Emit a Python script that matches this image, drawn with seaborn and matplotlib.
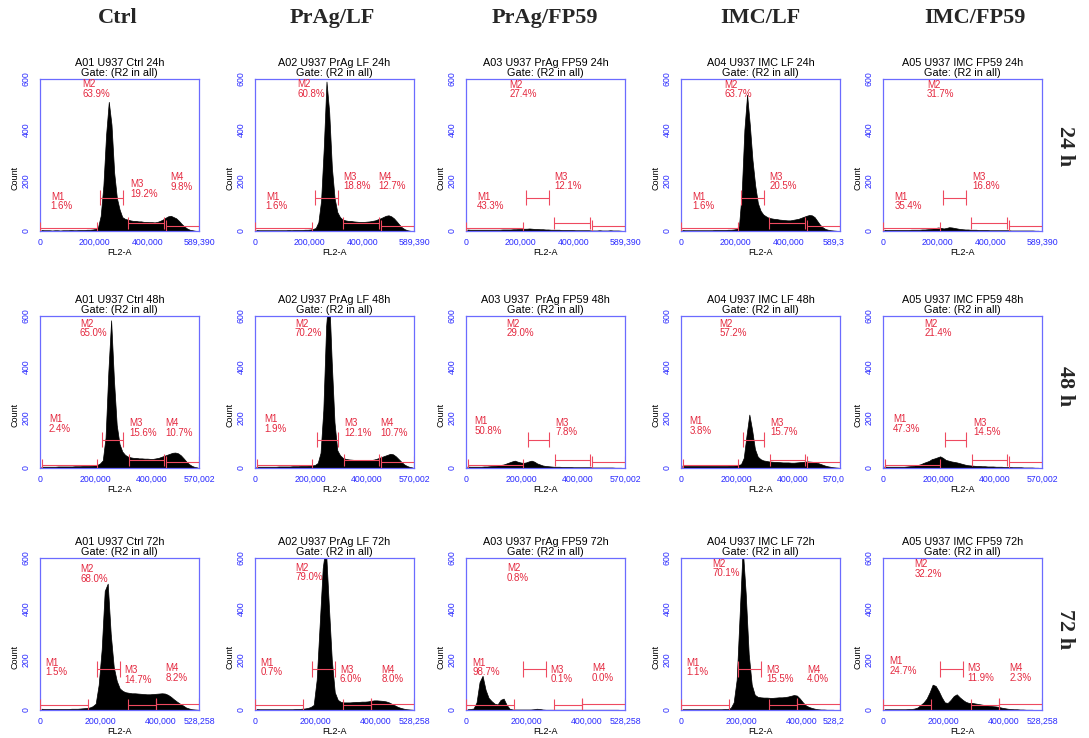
import numpy as np
import pandas as pd
import matplotlib
matplotlib.use("Agg")
import matplotlib.pyplot as plt
import seaborn as sns
from matplotlib.transforms import ScaledTranslation

sns.set_theme(style="white")
plt.rcParams["font.family"] = ["Liberation Sans", "DejaVu Sans"]

# ---------------- data ----------------
BIN = 10000  # FL2-A bin width

treatments = ["Ctrl", "PrAg/LF", "PrAg/FP59", "IMC/LF", "IMC/FP59"]
times = ["24 h", "48 h", "72 h"]
sample_names = ["A01 U937 Ctrl", "A02 U937 PrAg LF", "A03 U937 PrAg FP59",
                "A04 U937 IMC LF", "A05 U937 IMC FP59"]
sample_names_48 = ["A01 U937 Ctrl", "A02 U937 PrAg LF", "A03 U937  PrAg FP59",
                   "A04 U937 IMC LF", "A05 U937 IMC FP59"]
time_tags = ["24h", "48h", "72h"]

x_max = [589390, 570002, 528258]
x_max_labels = [["589,390", "589,390", "589,390", "589,3", "589,390"],
                ["570,002", "570,002", "570,002", "570,0", "570,002"],
                ["528,258", "528,258", "528,258", "528,2", "528,258"]]
x_ticks = [0, 200000, 400000]
x_tick_labels = ["0", "200,000", "400,000"]
y_ticks = [0, 200, 400, 600]

# histogram heights (counts per 10,000-wide FL2-A bin)
ctrl_24 = [4,3,3,3,2,3,3,2,3,3, 3,4,3,3,4,4,4,5,5,6, 8,15,60,180,380,510,420,230,130,85,
           55,48,45,42,40,40,38,38,36,36, 35,35,34,36,40,45,52,58,60,55, 50,40,28,18,10,5,3,1,0]
prag_lf_24 = [4,3,3,3,3,3,3,3,3,3, 3,3,4,3,4,4,4,4,5,5, 6,8,12,35,120,330,590,470,250,130,
              75,55,45,42,40,40,38,37,36,36, 36,37,38,40,42,46,50,55,60,62, 58,50,38,25,14,7,3,1,0]
prag_fp59_24 = [6,5,5,5,5,5,5,5,5,5, 5,5,5,6,6,6,6,7,7,8, 8,9,9,10,9,8,8,7,7,6,
                6,5,5,5,5,4,4,4,4,4, 3,3,3,3,3,3,2,2,2,3, 2,2,2,3,2,2,2,1,0]
imc_lf_24 = [4,3,3,3,3,3,3,3,3,3, 3,3,4,4,4,4,4,5,5,6, 8,20,150,400,538,420,280,180,110,80,
             65,58,52,50,48,47,45,44,43,42, 42,44,46,48,52,56,60,63,62,55, 40,25,15,8,5,3,2,1,0]
imc_fp59_24 = [5,4,4,4,4,4,4,4,4,4, 5,5,5,5,6,6,7,8,10,12, 14,12,10,12,15,14,12,10,8,7,
               6,6,5,5,5,4,4,4,4,3, 3,3,3,3,3,3,3,2,2,2, 2,2,2,2,2,2,1,1,0]

ctrl_48 = [5,5,5,5,5,5,6,6,6,6, 6,6,7,7,7,8,8,8,9,10, 12,18,30,120,380,583,350,170,95,65,
           52,45,42,40,40,38,38,37,37,36, 36,38,40,44,48,52,56,60,61,58, 50,38,25,15,8,4,2]
prag_lf_48 = [5,5,5,5,5,5,5,5,6,6, 6,6,6,7,7,7,8,8,8,9, 10,12,20,60,230,560,700,420,180,70,
              50,40,36,34,33,32,32,31,31,30, 30,31,33,36,40,44,48,52,56,54, 46,35,24,14,8,4,2]
prag_fp59_48 = [6,5,5,5,5,5,6,6,7,8, 9,10,12,14,18,22,26,29,25,22, 20,22,26,29,25,18,14,10,8,7,
                6,5,5,5,4,4,4,4,3,3, 3,3,3,3,3,2,2,2,2,2, 2,2,2,1,1,1,0]
imc_lf_48 = [10,8,8,8,8,8,8,8,8,8, 8,8,8,8,8,8,8,9,9,10, 12,15,40,130,211,150,75,45,35,30,
             28,26,25,24,24,23,22,22,22,21, 21,22,23,24,25,26,25,24,22,18, 14,10,7,5,3,2,1]
imc_fp59_48 = [6,5,5,5,5,5,5,5,6,7, 8,10,12,15,20,24,28,35,38,42, 46,40,32,29,26,24,22,19,16,13,
               11,10,9,8,8,7,7,6,6,6, 5,5,5,4,4,4,3,3,3,3, 2,2,2,2,1,1,0]

ctrl_72 = [5,4,4,4,4,4,4,4,4,4, 5,5,5,6,7,8,10,15,25,100, 240,470,499,300,170,115,85,75,70,68,
           66,66,65,64,63,62,62,63,64,65, 66,65,60,52,42,33,25,18,10,6, 3,2,1]
prag_lf_72 = [4,3,3,3,3,3,3,3,3,3, 3,3,3,4,4,5,6,8,12,20, 120,340,560,650,420,200,70,40,32,30,
              30,30,31,32,32,33,33,34,36,38, 38,37,36,34,30,24,18,12,8,5, 3,2,1]
prag_fp59_72 = [3,4,6,30,110,135,80,48,35,25, 22,40,45,20,5,2,2,2,2,2, 2,2,3,5,4,2,1,1,1,1,
                1,1,1,1,1,1,1,1,1,1, 1,1,1,1,1,1,1,1,1,1, 1,0,0]
imc_lf_72 = [3,3,3,3,3,3,3,3,3,3, 3,3,3,3,4,4,8,30,120,380, 640,460,220,100,60,52,50,49,49,48,
             48,49,50,50,51,53,56,59,57,45, 30,18,12,8,5,3,2,2,1,1, 1,0,0]
imc_fp59_72 = [3,3,3,3,3,3,3,3,4,4, 6,10,20,30,45,70,100,95,75,50, 30,28,40,55,62,50,40,32,28,28,
               26,24,22,20,18,17,15,14,12,9, 7,5,4,3,3,2,2,1,1,1, 0,0,0]

hist_24 = [ctrl_24, prag_lf_24, prag_fp59_24, imc_lf_24, imc_fp59_24]
hist_48 = [ctrl_48, prag_lf_48, prag_fp59_48, imc_lf_48, imc_fp59_48]
hist_72 = [ctrl_72, prag_lf_72, prag_fp59_72, imc_lf_72, imc_fp59_72]

# marker gates (FL2-A range) and the count level the marker bar is drawn at
gates_24 = [[0, 210000], [222000, 307000], [327000, 460000], [466000, 589390]]
gate_levels_24 = [10, 131, 31, 21]
gates_48 = [[6000, 203000], [221000, 296000], [319000, 444000], [450000, 570002]]
gate_levels_48 = [12, 111, 33, 25]
gates_72 = [[0, 160000], [190000, 266000], [292000, 384000], [386000, 528258]]
gate_levels_72 = [20, 162, 18, 25]

# percentages per marker (M1..M4); None = label not shown
pct_24 = [[1.6, 63.9, 19.2, 9.8], [1.6, 60.8, 18.8, 12.7], [43.3, 27.4, 12.1, None],
          [1.6, 63.7, 20.5, None], [35.4, 31.7, 16.8, None]]
pct_48 = [[2.4, 65.0, 15.6, 10.7], [1.9, 70.2, 12.1, 10.7], [50.8, 29.0, 7.8, None],
          [3.8, 57.2, 15.7, None], [47.3, 21.4, 14.5, None]]
pct_72 = [[1.5, 68.0, 14.7, 8.2], [0.7, 79.0, 6.0, 8.0], [98.7, 0.8, 0.1, 0.0],
          [1.1, 70.1, 15.5, 4.0], [24.7, 32.2, 11.9, 2.3]]

# ---------------- layout ----------------
label_pos = [
    [[(40e3, 116), (158e3, 560), (334e3, 166), (482e3, 193)],
     [(40e3, 116), (158e3, 560), (327e3, 195), (457e3, 195)],
     [(41e3, 116), (161e3, 558), (328e3, 196), None],
     [(41e3, 116), (161e3, 558), (328e3, 195), None],
     [(43e3, 116), (163e3, 558), (330e3, 195), None]],
    [[(32e3, 174), (143e3, 550), (320e3, 159), (450e3, 159)],
     [(32e3, 174), (143e3, 550), (320e3, 159), (450e3, 159)],
     [(30e3, 166), (145e3, 550), (321e3, 160), None],
     [(30e3, 166), (138e3, 550), (321e3, 160), None],
     [(35e3, 174), (148e3, 550), (323e3, 160), None]],
    [[(19e3, 168), (133e3, 537), (280e3, 138), (417e3, 145)],
     [(19e3, 168), (133e3, 542), (282e3, 140), (421e3, 140)],
     [(20e3, 168), (136e3, 541), (281e3, 140), (419e3, 145)],
     [(19e3, 168), (104e3, 558), (282e3, 140), (418e3, 140)],
     [(22e3, 173), (105e3, 557), (281e3, 146), (421e3, 146)]],
]

W, H = 1089, 738
col_left = [40, 255, 466, 681, 883]
row_top = [79, 316, 558]
AW, AH = 159, 152

BLUE = "#6b6bff"
BLUE_TXT = "#2a2aff"
RED_LINE = "#ee4a60"
RED_TXT = "#e4283f"

fig = plt.figure(figsize=(W / 100, H / 100), dpi=100)
fig.patch.set_facecolor("white")

hists = [hist_24, hist_48, hist_72]
gates = [gates_24, gates_48, gates_72]
levels = [gate_levels_24, gate_levels_48, gate_levels_72]
pcts = [pct_24, pct_48, pct_72]
names = [sample_names, sample_names_48, sample_names]

for r in range(3):
    for c in range(5):
        ax = fig.add_axes([col_left[c] / W, 1 - (row_top[r] + AH) / H, AW / W, AH / H])
        counts = [float(v) for v in hists[r][c]]
        n = len(counts)
        df = pd.DataFrame({"fl2a": [BIN * (i + 0.5) for i in range(n)], "count": counts})
        sns.histplot(data=df, x="fl2a", weights="count", binwidth=BIN, binrange=(0, n * BIN),
                     element="poly", fill=True, color="black", alpha=1.0,
                     edgecolor="black", linewidth=0.5, ax=ax)
        ax.set_xlim(0, x_max[r])
        ax.set_ylim(0, 600)

        # gates
        for g, (x0, x1) in enumerate(gates[r]):
            y = levels[r][g]
            h = 30 if g == 1 else 24
            ax.hlines(y, x0, x1, color=RED_LINE, lw=0.8, zorder=3)
            ax.vlines([x0, x1], y - h, y + h, color=RED_LINE, lw=0.8, zorder=3)
            p = pcts[r][c][g]
            pos = label_pos[r][c][g]
            if p is not None and pos is not None:
                ax.text(pos[0], pos[1], f"M{g + 1}\n{p:.1f}%", color=RED_TXT, fontsize=7,
                        ha="left", va="center", linespacing=0.95, zorder=4)

        ax.set_xticks(x_ticks + [x_max[r]])
        ax.set_xticklabels(x_tick_labels + [x_max_labels[r][c]])
        ax.set_yticks(y_ticks)
        ax.set_yticklabels([str(v) for v in y_ticks], rotation=90, va="center")
        ax.tick_params(length=0, labelsize=6.3, colors=BLUE_TXT)
        ax.tick_params(axis="x", pad=5)
        ax.tick_params(axis="y", pad=6.5)
        if c == 3:
            lab = ax.get_xticklabels()[-1]
            lab.set_ha("left")
            lab.set_transform(lab.get_transform() + ScaledTranslation(-0.17, 0, fig.dpi_scale_trans))
        for s in ax.spines.values():
            s.set_visible(True)
            s.set_color(BLUE)
            s.set_linewidth(0.9)
        ax.set_ylabel("Count", fontsize=6.5, color="black")
        ax.yaxis.set_label_coords(-0.128, 0.35)
        ax.set_xlabel("FL2-A", fontsize=6.5, color="black")
        ax.xaxis.set_label_coords(0.5, -0.112)
        ax.set_title(f"{names[r][c]} {time_tags[r]}\nGate: (R2 in all)", fontsize=7.8,
                     pad=2, linespacing=1.0, color="black")

header_x = [118, 332, 545, 760, 975]
for c, t in enumerate(treatments):
    fig.text(header_x[c] / W, 1 - 18 / H, t, ha="center", va="center", fontsize=16,
             fontweight="bold", family="Liberation Serif")
row_y = [146, 386, 629]
for r, t in enumerate(times):
    fig.text(1065 / W, 1 - row_y[r] / H, t, ha="center", va="center", fontsize=16,
             fontweight="bold", family="Liberation Serif", rotation=270)

fig.savefig("out.png", dpi=100, facecolor="white")
